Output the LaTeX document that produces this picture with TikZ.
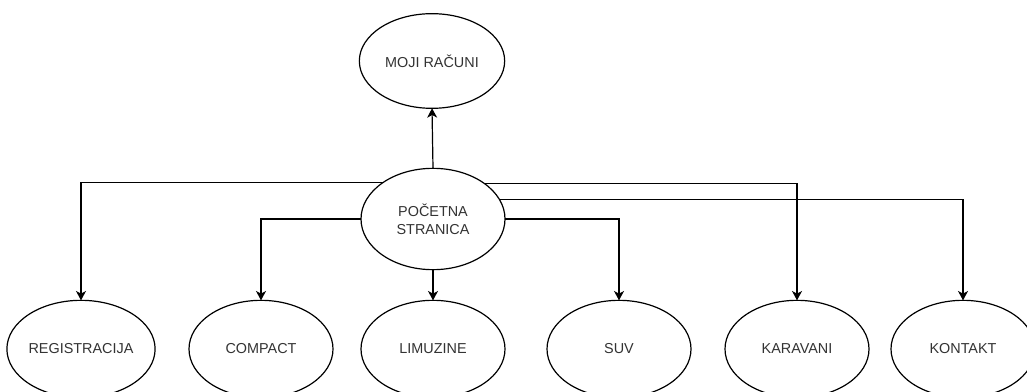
\documentclass[tikz,border=0pt]{standalone}
\usepackage{fontspec}
\setmainfont{Liberation Sans}
\usetikzlibrary{shapes.geometric,arrows.meta}
\definecolor{txt}{HTML}{333333}
\begin{document}
\begin{tikzpicture}[x=0.75pt,y=-0.75pt,
  oval/.style={ellipse,draw=black,line width=0.9pt,fill=white,inner sep=0pt,outer sep=0pt,
    minimum width=108pt,minimum height=73pt,text=txt,font=\fontsize{10.8}{13.5}\selectfont,align=center},
  arr/.style={draw=black,line width=0.9pt,-{Stealth[length=7pt,width=7.5pt,inset=2pt]}}]
\useasboundingbox (0,0) rectangle (1027,392);
\clip (0,0) rectangle (1027,392);
\node[oval,minimum width=109pt,minimum height=71pt] (moji) at (432,61) {MOJI RAČUNI};
\node[oval,minimum height=76pt] (poc) at (433,219) {POČETNA\\STRANICA};
\node[oval] (reg) at (81,349) {REGISTRACIJA};
\node[oval] (com) at (261,349) {COMPACT};
\node[oval] (lim) at (433,349) {LIMUZINE};
\node[oval] (suv) at (619,349) {SUV};
\node[oval] (kar) at (797,349) {KARAVANI};
\node[oval] (kon) at (963,349) {KONTAKT};
\draw[arr] (poc.north) -- (moji.south);
\draw[arr] (poc.144.8) -| (reg.north);
\draw[arr] (poc.35.2) -| (kar.north);
\draw[arr] (poc.16.9) -| (kon.north);
\draw[arr] (poc.west) -| (com.north);
\draw[arr] (poc.east) -| (suv.north);
\draw[arr] (poc.south) -- (lim.north);
\end{tikzpicture}
\end{document}
